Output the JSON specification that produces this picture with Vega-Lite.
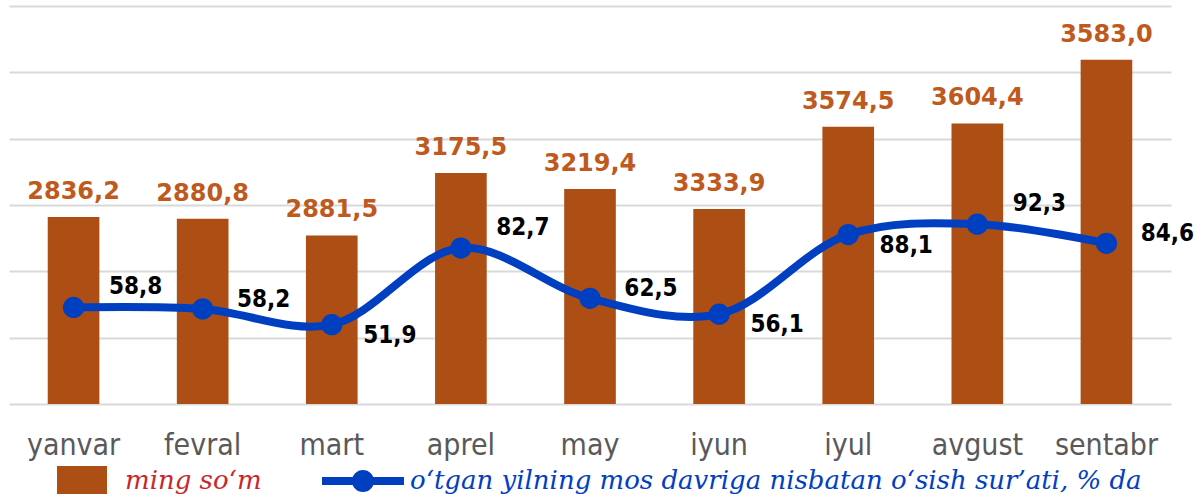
{
  "$schema": "https://vega.github.io/schema/vega-lite/v6.json",
  "width": 1162,
  "height": 398,
  "autosize": {"type": "none"},
  "padding": {"left": 9, "top": 6, "right": 25, "bottom": 90},
  "config": {
    "view": {"stroke": null},
    "locale": {"number": {"decimal": ",", "thousands": " ", "grouping": [3], "currency": ["", ""]}}
  },
  "data": {
    "values": [
      {"month": "yanvar", "som": 2836.2, "plotted": 1409, "pct": 58.8},
      {"month": "fevral", "som": 2880.8, "plotted": 1397, "pct": 58.2},
      {"month": "mart", "som": 2881.5, "plotted": 1271, "pct": 51.9},
      {"month": "aprel", "som": 3175.5, "plotted": 1741, "pct": 82.7},
      {"month": "may", "som": 3219.4, "plotted": 1621, "pct": 62.5},
      {"month": "iyun", "som": 3333.9, "plotted": 1470, "pct": 56.1},
      {"month": "iyul", "som": 3574.5, "plotted": 2090, "pct": 88.1},
      {"month": "avgust", "som": 3604.4, "plotted": 2115, "pct": 92.3},
      {"month": "sentabr", "som": 3583.0, "plotted": 2595, "pct": 84.6}
    ]
  },
  "encoding": {
    "x": {
      "field": "month",
      "type": "nominal",
      "sort": null,
      "scale": {"paddingInner": 0, "paddingOuter": 0},
      "axis": {
        "title": null,
        "labelAngle": 0,
        "ticks": false,
        "tickSize": 0,
        "domain": false,
        "grid": false,
        "labelFont": "DejaVu Sans Condensed, DejaVu Sans",
        "labelFontSize": 30,
        "labelColor": "#595959",
        "labelBaseline": "alphabetic",
        "labelPadding": 50
      }
    }
  },
  "layer": [
    {
      "mark": {"type": "bar", "width": {"band": 0.4}},
      "encoding": {
        "y": {
          "field": "plotted",
          "type": "quantitative",
          "scale": {"domain": [0, 3000], "nice": false, "zero": true},
          "axis": {
            "title": null,
            "labels": false,
            "ticks": false,
            "domain": false,
            "grid": true,
            "values": [0, 500, 1000, 1500, 2000, 2500, 3000],
            "gridColor": "#D9D9D9",
            "gridWidth": 2
          }
        },
        "fill": {
          "datum": "ming so‘m",
          "scale": {"range": ["#AD4E14"]},
          "legend": {
            "title": null,
            "orient": "none",
            "legendX": 48,
            "legendY": 450,
            "padding": 0,
            "symbolType": "M-1,-0.6H1V0.76H-1Z",
            "symbolSize": 2500,
            "labelOffset": 18,
            "labelFont": "DejaVu Serif",
            "labelFontStyle": "italic",
            "labelFontSize": 26,
            "labelColor": "#C8282D",
            "labelLimit": 900,
            "encode": {"symbols": {"update": {"fill": {"value": "#AD4E14"}, "strokeWidth": {"value": 0}}}}
          }
        }
      }
    },
    {
      "mark": {
        "type": "text",
        "font": "DejaVu Sans",
        "fontWeight": "bold",
        "fontSize": 24,
        "color": "#BF5A1E",
        "baseline": "alphabetic",
        "align": "center",
        "dy": -18
      },
      "encoding": {
        "y": {"field": "plotted", "type": "quantitative", "scale": {"domain": [0, 3000], "nice": false}, "axis": null},
        "text": {"field": "som", "type": "quantitative", "format": ".1f"}
      }
    },
    {
      "mark": {"type": "line", "strokeWidth": 8, "interpolate": "catmull-rom"},
      "encoding": {
        "y": {"field": "pct", "type": "quantitative", "scale": {"domain": [20, 180], "nice": false, "zero": false}, "axis": null},
        "stroke": {
          "datum": "o‘tgan yilning mos davriga nisbatan o‘sish sur’ati, % da",
          "scale": {"range": ["#0040C0"]},
          "legend": {
            "title": null,
            "orient": "none",
            "legendX": 313,
            "legendY": 434,
            "padding": 0,
            "symbolType": "M-1,-0.1H1V0.1H-1Z M-0.27,0A0.27,0.27 0 1,1 0.27,0A0.27,0.27 0 1,1 -0.27,0Z",
            "symbolSize": 6724,
            "labelOffset": 6,
            "labelFont": "DejaVu Serif",
            "labelFontStyle": "italic",
            "labelFontSize": 26,
            "labelColor": "#0040C0",
            "labelLimit": 1000,
            "encode": {"symbols": {"update": {"fill": {"value": "#0040C0"}, "stroke": {"value": "#0040C0"}, "strokeWidth": {"value": 0}}}}
          }
        }
      }
    },
    {
      "mark": {"type": "point", "filled": true, "size": 452, "color": "#0040C0", "opacity": 1},
      "encoding": {
        "y": {"field": "pct", "type": "quantitative", "scale": {"domain": [20, 180], "nice": false, "zero": false}, "axis": null}
      }
    },
    {
      "transform": [{"filter": {"field": "month", "oneOf": ["yanvar", "aprel", "avgust"]}}],
      "mark": {"type": "text", "font": "DejaVu Sans Condensed, DejaVu Sans", "fontWeight": "bold", "fontSize": 24, "color": "#000000", "baseline": "alphabetic", "align": "center", "dx": 62, "dy": -13},
      "encoding": {
        "y": {"field": "pct", "type": "quantitative", "scale": {"domain": [20, 180], "nice": false, "zero": false}, "axis": null},
        "text": {"field": "pct", "type": "quantitative", "format": ".1f"}
      }
    },
    {
      "transform": [{"filter": {"field": "month", "oneOf": ["fevral", "may", "sentabr"]}}],
      "mark": {"type": "text", "font": "DejaVu Sans Condensed, DejaVu Sans", "fontWeight": "bold", "fontSize": 24, "color": "#000000", "baseline": "alphabetic", "align": "center", "dx": 61, "dy": -2},
      "encoding": {
        "y": {"field": "pct", "type": "quantitative", "scale": {"domain": [20, 180], "nice": false, "zero": false}, "axis": null},
        "text": {"field": "pct", "type": "quantitative", "format": ".1f"}
      }
    },
    {
      "transform": [{"filter": {"field": "month", "oneOf": ["mart", "iyun", "iyul"]}}],
      "mark": {"type": "text", "font": "DejaVu Sans Condensed, DejaVu Sans", "fontWeight": "bold", "fontSize": 24, "color": "#000000", "baseline": "alphabetic", "align": "center", "dx": 58, "dy": 18},
      "encoding": {
        "y": {"field": "pct", "type": "quantitative", "scale": {"domain": [20, 180], "nice": false, "zero": false}, "axis": null},
        "text": {"field": "pct", "type": "quantitative", "format": ".1f"}
      }
    }
  ],
  "resolve": {"scale": {"y": "independent"}}
}
